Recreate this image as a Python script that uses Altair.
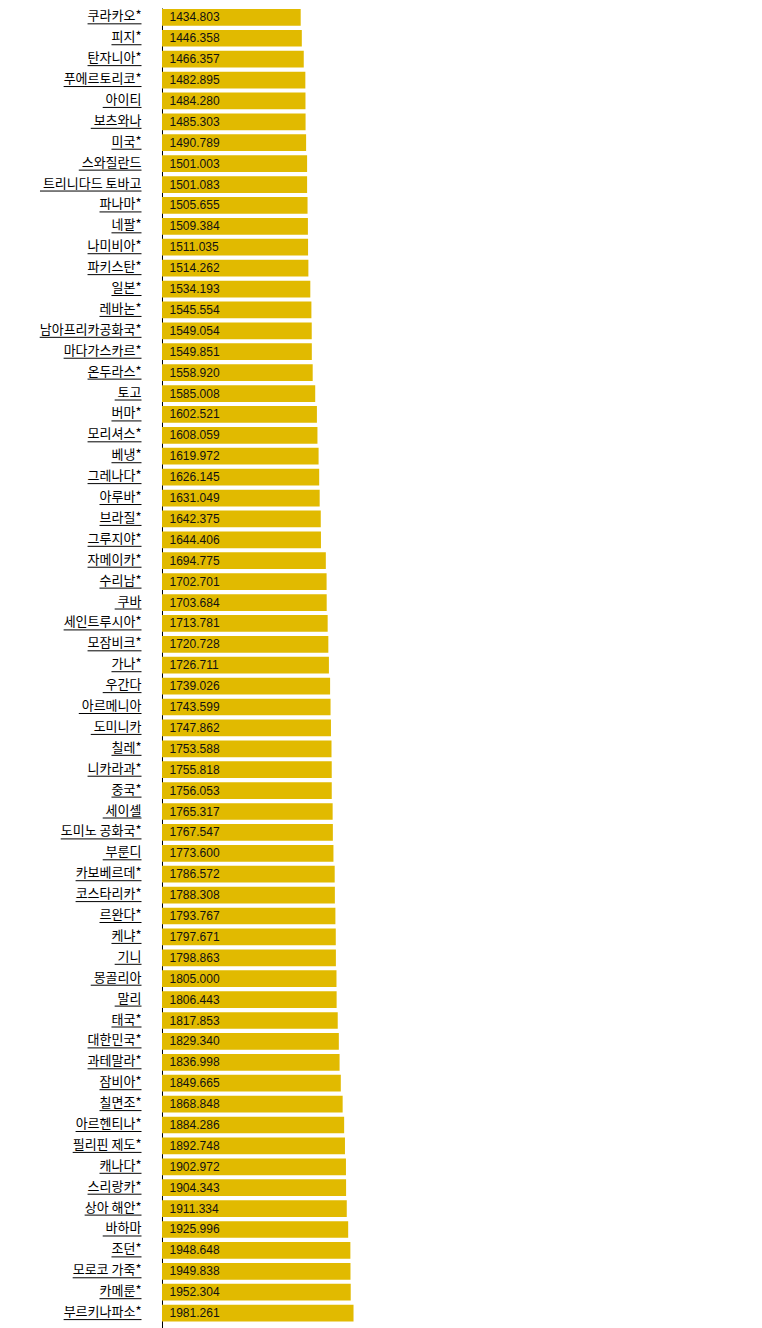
import pandas as pd
import altair as alt

COUNTRIES = [
    "쿠라카오*", "피지*", "탄자니아*", "푸에르토리코*", "아이티 ", "보츠와나 ",
    "미국*", "스와질란드 ", "트리니다드 토바고 ", "파나마*", "네팔*", "나미비아*",
    "파키스탄*", "일본*", "레바논*", "남아프리카공화국*", "마다가스카르*", "온두라스*",
    "토고 ", "버마*", "모리셔스*", "베냉*", "그레나다*", "아루바*",
    "브라질*", "그루지야*", "자메이카*", "수리남*", "쿠바 ", "세인트루시아*",
    "모잠비크*", "가나*", "우간다 ", "아르메니아 ", "도미니카 ", "칠레*",
    "니카라과*", "중국*", "세이셸 ", "도미노 공화국*", "부룬디 ", "카보베르데*",
    "코스타리카*", "르완다*", "케냐*", "기니 ", "몽골리아 ", "말리 ",
    "태국*", "대한민국*", "과테말라*", "잠비아*", "칠면조*", "아르헨티나*",
    "필리핀 제도*", "캐나다*", "스리랑카*", "상아 해안*", "바하마 ", "조던*",
    "모로코 가죽*", "카메룬*", "부르키나파소*",
]
SCORES = [
    1434.803, 1446.358, 1466.357, 1482.895, 1484.280, 1485.303,
    1490.789, 1501.003, 1501.083, 1505.655, 1509.384, 1511.035,
    1514.262, 1534.193, 1545.554, 1549.054, 1549.851, 1558.920,
    1585.008, 1602.521, 1608.059, 1619.972, 1626.145, 1631.049,
    1642.375, 1644.406, 1694.775, 1702.701, 1703.684, 1713.781,
    1720.728, 1726.711, 1739.026, 1743.599, 1747.862, 1753.588,
    1755.818, 1756.053, 1765.317, 1767.547, 1773.600, 1786.572,
    1788.308, 1793.767, 1797.671, 1798.863, 1805.000, 1806.443,
    1817.853, 1829.340, 1836.998, 1849.665, 1868.848, 1884.286,
    1892.748, 1902.972, 1904.343, 1911.334, 1925.996, 1948.648,
    1949.838, 1952.304, 1981.261,
]

GOLD = "#e1ba00"
LABEL_GAP = 20.5  # gap between the axis line and the right end of the names
NAME_SIZE = 13


def text_width(s):
    # rough width of a Noto Sans CJK KR string, for the underline
    w = 0.0
    for c in s:
        if "가" <= c <= "힣":
            w += 0.92 * NAME_SIZE
        elif c in (" ", "\u00a0"):
            w += 0.224 * NAME_SIZE
        else:
            w += 0.47 * NAME_SIZE
    return w


df = pd.DataFrame({"country": COUNTRIES, "score": SCORES})
df["label"] = df["score"].map(lambda v: f"{v:.3f}")
# svg drops a trailing plain space, so keep it as a no-break space
df["shown"] = df["country"].map(lambda s: s[:-1] + "\u00a0" if s.endswith(" ") else s)
df["u_end"] = -LABEL_GAP
df["u_start"] = -LABEL_GAP - df["shown"].map(text_width)

base = alt.Chart(df).encode(
    y=alt.Y(
        "country:N",
        sort=COUNTRIES,
        scale=alt.Scale(paddingInner=0.2, paddingOuter=0.18, align=0.13),
        axis=alt.Axis(
            title=None, labels=False, ticks=False, grid=False,
            domainColor="#000000", domainWidth=1,
        ),
    )
)

bars = base.mark_bar(color=GOLD).encode(
    x=alt.X("score:Q", scale=alt.Scale(domain=[0, 6000]), axis=None)
)

values = base.mark_text(
    align="left", baseline="middle", dx=7.5,
    font="Liberation Sans", fontSize=12, color="#111111",
).encode(x=alt.value(0), text="label:N")

names = base.mark_text(
    align="right", baseline="middle", dy=-1,
    font="Noto Sans CJK KR", fontSize=NAME_SIZE, color="#000000",
).encode(x=alt.value(-LABEL_GAP), text="shown:N")

underline = base.mark_rule(color="#000000", strokeWidth=1, yOffset=6.5).encode(
    x=alt.X("u_start:Q", scale=None, axis=None),
    x2="u_end:Q",
)

chart = (
    alt.layer(bars, values, names, underline)
    .resolve_scale(x="independent")
    .properties(
        width=580,
        height=1320,
        autosize=alt.AutoSizeParams(type="none"),
        padding={"left": 154, "top": 0, "right": 0, "bottom": 0},
    )
    .configure_view(stroke=None)
)

chart.save("out.html", embed_options={"renderer": "svg", "actions": False})
